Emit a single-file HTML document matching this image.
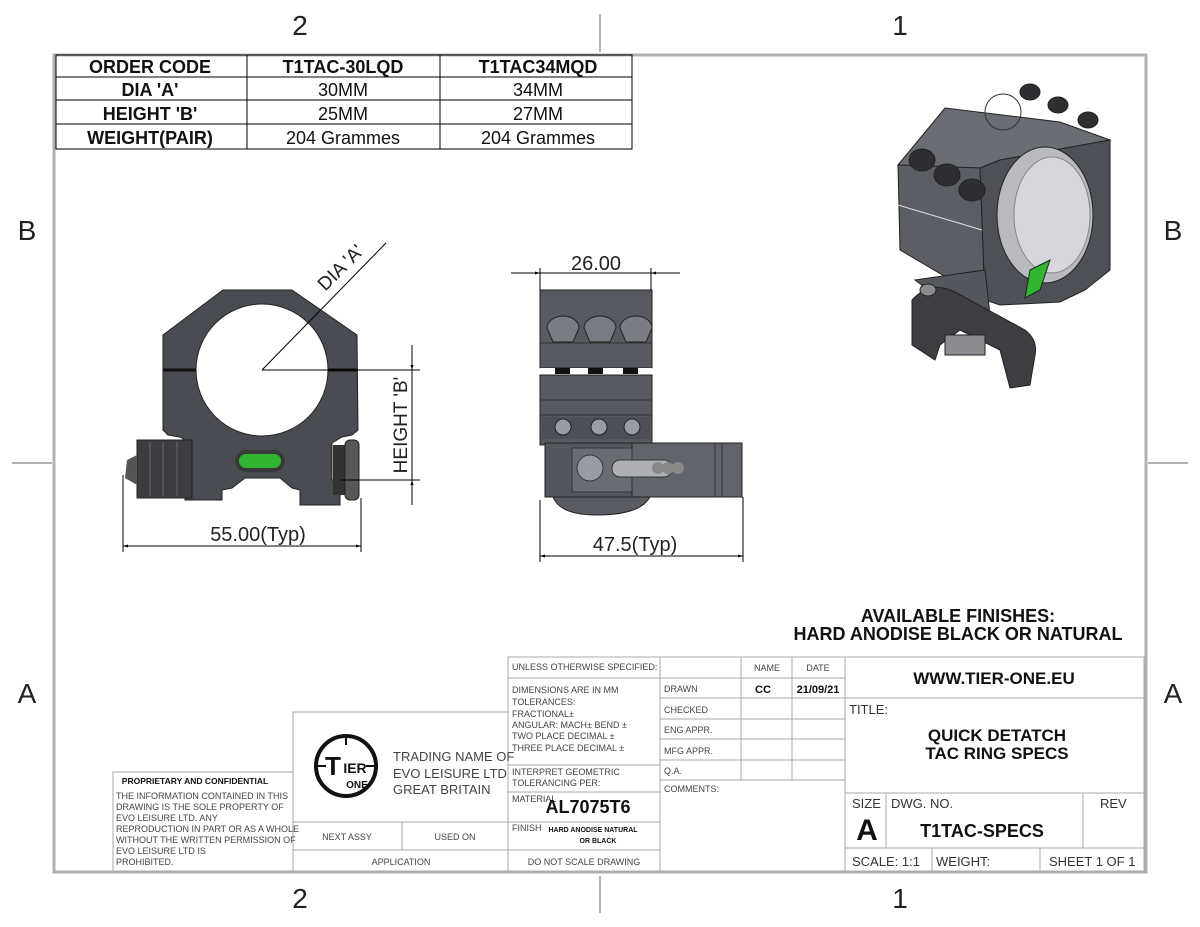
<!DOCTYPE html>
<html><head><meta charset="utf-8"><style>
html,body{margin:0;padding:0;background:#fff;}
svg{display:block;font-family:"Liberation Sans",sans-serif;}
.g{stroke:#a9a9a9;fill:none;stroke-width:1}
.k{stroke:#000;fill:none;stroke-width:1}
.t{fill:#444;font-size:9px}
.b{fill:#111;font-weight:bold}
</style></head><body>
<svg width="1200" height="927" viewBox="0 0 1200 927" xmlns="http://www.w3.org/2000/svg">
<defs>
<marker id="ar" viewBox="0 0 10 10" refX="10" refY="5" markerWidth="9" markerHeight="5" orient="auto-start-reverse"><path d="M0,2 L10,5 L0,8 z" fill="#000"/></marker>
</defs>
<!-- frame -->
<rect x="54" y="55" width="1092" height="817" fill="none" stroke="#b0b0b0" stroke-width="3"/>
<g stroke="#b0b0b0" stroke-width="2">
<line x1="600" y1="14" x2="600" y2="52"/><line x1="600" y1="876" x2="600" y2="913"/>
<line x1="12" y1="463" x2="52" y2="463"/><line x1="1148" y1="463" x2="1188" y2="463"/>
</g>
<g font-size="28" fill="#222" text-anchor="middle">
<text x="300" y="35">2</text><text x="900" y="35">1</text>
<text x="300" y="908">2</text><text x="900" y="908">1</text>
<text x="27" y="240">B</text><text x="1173" y="240">B</text>
<text x="27" y="703">A</text><text x="1173" y="703">A</text>
</g>
<!-- order table -->
<g class="k" stroke-width="1.2">
<rect x="56" y="55" width="576" height="94"/>
<line x1="56" y1="77" x2="632" y2="77"/><line x1="56" y1="100" x2="632" y2="100"/><line x1="56" y1="124" x2="632" y2="124"/>
<line x1="247" y1="55" x2="247" y2="149"/><line x1="440" y1="55" x2="440" y2="149"/>
</g>
<g font-size="18" fill="#111" text-anchor="middle">
<text x="150" y="73" class="b">ORDER CODE</text><text x="343" y="73" class="b">T1TAC-30LQD</text><text x="538" y="73" class="b">T1TAC34MQD</text>
<text x="150" y="96" class="b" x-offset="0">DIA 'A'</text><text x="343" y="96">30MM</text><text x="538" y="96">34MM</text>
<text x="150" y="120" class="b">HEIGHT 'B'</text><text x="343" y="120">25MM</text><text x="538" y="120">27MM</text>
<text x="150" y="144" class="b">WEIGHT(PAIR)</text><text x="343" y="144">204 Grammes</text><text x="538" y="144">204 Grammes</text>
</g>

<!-- FRONT VIEW -->
<g>
<path d="M223,290 L292,290 L357,335 L358,430 L352,435 L342,437 L332,443 L332,480 L340,480 L340,505 L300,505 L300,490 L292,488 L280,478 L245,478 L232,488 L222,490 L222,500 L185,500 L185,480 L190,480 L190,443 L180,437 L168,435 L163,430 L163,335 Z" fill="#4a4c53" stroke="#222"/>
<line x1="163" y1="370" x2="358" y2="370" stroke="#111" stroke-width="3"/>
<circle cx="262" cy="370" r="66" fill="#fff" stroke="#222"/>
<rect x="235" y="450" width="50" height="22" rx="11" fill="#3a3a3a"/>
<rect x="239" y="454" width="42" height="14" rx="7" fill="#2fb52f"/>
<rect x="137" y="440" width="55" height="58" fill="#3c3d42" stroke="#222"/>
<line x1="150" y1="442" x2="150" y2="496" stroke="#666"/><line x1="163" y1="442" x2="163" y2="496" stroke="#666"/><line x1="177" y1="442" x2="177" y2="496" stroke="#666"/>
<path d="M137,455 L127,460 L125,478 L137,485 Z" fill="#555"/>
<rect x="333" y="445" width="14" height="50" fill="#333"/>
<rect x="345" y="440" width="14" height="60" rx="5" fill="#55575c" stroke="#222"/>
</g>
<g class="k">
<line x1="262" y1="370" x2="386" y2="243"/>
<line x1="262" y1="370" x2="420" y2="370"/>
<line x1="340" y1="480" x2="420" y2="480"/>
<line x1="412" y1="345" x2="412" y2="370" marker-end="url(#ar)"/>
<line x1="412" y1="370" x2="412" y2="480"/>
<line x1="412" y1="505" x2="412" y2="480" marker-end="url(#ar)"/>
<line x1="123" y1="475" x2="123" y2="552"/><line x1="361" y1="498" x2="361" y2="552"/>
<line x1="123" y1="546" x2="361" y2="546" marker-start="url(#ar)" marker-end="url(#ar)"/>
</g>
<text x="345" y="272" font-size="19" fill="#222" transform="rotate(-45 345 272)" text-anchor="middle">DIA 'A'</text>
<text x="407" y="425" font-size="19" fill="#222" transform="rotate(-90 407 425)" text-anchor="middle">HEIGHT 'B'</text>
<text x="258" y="541" font-size="20" fill="#222" text-anchor="middle">55.00(Typ)</text>

<!-- SIDE VIEW -->
<g>
<rect x="540" y="290" width="112" height="78" fill="#585a62" stroke="#222"/>
<line x1="540" y1="343" x2="652" y2="343" stroke="#333"/>
<g fill="#7a7c84" stroke="#222">
<path d="M547,328 a16,12 0 0 1 32,0 l-6,14 h-20 z"/><path d="M584,328 a16,12 0 0 1 32,0 l-6,14 h-20 z"/><path d="M620,328 a16,12 0 0 1 32,0 l-6,14 h-20 z"/>
</g>
<rect x="540" y="368" width="112" height="7" fill="#fff"/>
<rect x="555" y="368" width="15" height="6" fill="#111"/><rect x="588" y="368" width="15" height="6" fill="#111"/><rect x="623" y="368" width="15" height="6" fill="#111"/>
<rect x="540" y="375" width="112" height="70" fill="#585a62" stroke="#222"/>
<line x1="540" y1="400" x2="652" y2="400" stroke="#333"/><line x1="540" y1="415" x2="652" y2="415" stroke="#333"/>
<rect x="542" y="417" width="108" height="22" fill="#4d4f56"/>
<circle cx="563" cy="427" r="8" fill="#9a9ca3" stroke="#222"/><circle cx="599" cy="427" r="8" fill="#9a9ca3" stroke="#222"/><circle cx="632" cy="427" r="8" fill="#9a9ca3" stroke="#222"/>
<path d="M553,497 Q560,515 597,515 Q640,515 650,497 Z" fill="#5a5c63" stroke="#222"/>
<rect x="545" y="443" width="197" height="54" fill="#55575e" stroke="#222"/>
<rect x="632" y="443" width="110" height="54" fill="#62646b" stroke="#222"/>
<line x1="715" y1="443" x2="715" y2="497" stroke="#333"/><line x1="722" y1="443" x2="722" y2="497" stroke="#333"/>
<rect x="572" y="448" width="60" height="44" fill="#6a6c73" stroke="#333"/>
<circle cx="590" cy="468" r="13" fill="#9a9ca3" stroke="#333"/>
<rect x="612" y="460" width="60" height="17" rx="8" fill="#aeb0b6" stroke="#333"/>
<circle cx="658" cy="468" r="6" fill="#888"/><circle cx="668" cy="468" r="6" fill="#888"/><circle cx="678" cy="468" r="6" fill="#888"/>
</g>
<g class="k">
<line x1="540" y1="268" x2="540" y2="290"/><line x1="651" y1="268" x2="651" y2="290"/>
<line x1="511" y1="273" x2="540" y2="273" marker-end="url(#ar)"/>
<line x1="680" y1="273" x2="651" y2="273" marker-end="url(#ar)"/>
<line x1="540" y1="273" x2="651" y2="273"/>
<line x1="540" y1="500" x2="540" y2="562"/><line x1="743" y1="497" x2="743" y2="562"/>
<line x1="540" y1="556" x2="743" y2="556" marker-start="url(#ar)" marker-end="url(#ar)"/>
</g>
<text x="596" y="270" font-size="20" fill="#222" text-anchor="middle">26.00</text>
<text x="635" y="551" font-size="20" fill="#222" text-anchor="middle">47.5(Typ)</text>

<!-- ISO VIEW -->
<g stroke="#222">
<path d="M898,165 L945,108 L1060,122 L1110,140 L1000,160 L980,168 Z" fill="#6b6d74"/>
<path d="M898,165 L980,168 L985,300 L900,250 Z" fill="#5c5e65"/>
<path d="M980,168 L1000,160 L1110,140 L1110,270 L1085,290 L1060,302 L1000,305 L985,300 Z" fill="#4e5057"/>
<ellipse cx="1045" cy="215" rx="48" ry="68" fill="#b8babf"/>
<ellipse cx="1052" cy="215" rx="38" ry="58" fill="#d6d7da" stroke="#888"/>
<line x1="898" y1="205" x2="982" y2="230" stroke="#ddd"/>
<g fill="#2e2f33"><ellipse cx="922" cy="160" rx="13" ry="11"/><ellipse cx="947" cy="175" rx="13" ry="11"/><ellipse cx="972" cy="190" rx="13" ry="11"/>
<ellipse cx="1030" cy="92" rx="10" ry="8"/><ellipse cx="1058" cy="105" rx="10" ry="8"/><ellipse cx="1088" cy="120" rx="10" ry="8"/></g>
<circle cx="1003" cy="112" r="18" fill="none" stroke="#333"/>
<path d="M1030,270 L1050,260 L1040,290 L1025,298 Z" fill="#2fb52f"/>
<path d="M915,280 L985,270 L990,315 L960,315 Z" fill="#55575e"/>
<path d="M912,300 Q930,280 955,292 L1025,330 Q1038,340 1035,355 L1030,385 L1010,388 L1000,350 L960,330 L940,345 L935,360 L912,345 Z" fill="#3d3e44"/>
<ellipse cx="928" cy="290" rx="8" ry="6" fill="#8a8c92"/>
<rect x="945" y="335" width="40" height="20" fill="#8a8c92"/>
</g>

<!-- finishes -->
<text x="958" y="622" font-size="18" class="b" text-anchor="middle">AVAILABLE FINISHES:</text>
<text x="958" y="640" font-size="18" class="b" text-anchor="middle">HARD ANODISE BLACK OR NATURAL</text>

<!-- TITLE BLOCK -->
<g class="g">
<rect x="113" y="772" width="180" height="100"/>
<rect x="293" y="712" width="215" height="160"/>
<line x1="293" y1="822" x2="508" y2="822"/><line x1="293" y1="850" x2="508" y2="850"/><line x1="402" y1="822" x2="402" y2="850"/>
<rect x="508" y="657" width="152" height="215"/>
<line x1="508" y1="678" x2="660" y2="678"/><line x1="508" y1="765" x2="660" y2="765"/><line x1="508" y1="792" x2="660" y2="792"/><line x1="508" y1="822" x2="660" y2="822"/><line x1="508" y1="850" x2="660" y2="850"/>
<rect x="660" y="657" width="185" height="215"/>
<line x1="660" y1="678" x2="845" y2="678"/><line x1="660" y1="698" x2="845" y2="698"/><line x1="660" y1="719" x2="845" y2="719"/><line x1="660" y1="739" x2="845" y2="739"/><line x1="660" y1="760" x2="845" y2="760"/><line x1="660" y1="780" x2="845" y2="780"/>
<line x1="741" y1="657" x2="741" y2="780"/><line x1="792" y1="657" x2="792" y2="780"/>
<rect x="845" y="657" width="299" height="215"/>
<line x1="845" y1="698" x2="1144" y2="698"/><line x1="845" y1="793" x2="1144" y2="793"/><line x1="845" y1="848" x2="1144" y2="848"/>
<line x1="886" y1="793" x2="886" y2="848"/><line x1="1083" y1="793" x2="1083" y2="848"/>
<line x1="932" y1="848" x2="932" y2="872"/><line x1="1040" y1="848" x2="1040" y2="872"/>
</g>
<text x="195" y="784" font-size="8.5" class="b" text-anchor="middle">PROPRIETARY AND CONFIDENTIAL</text>
<g class="t" font-size="8.5">
<text x="116" y="799">THE INFORMATION CONTAINED IN THIS</text>
<text x="116" y="810">DRAWING IS THE SOLE PROPERTY OF</text>
<text x="116" y="821">EVO LEISURE LTD.  ANY</text>
<text x="116" y="832">REPRODUCTION IN PART OR AS A WHOLE</text>
<text x="116" y="843">WITHOUT THE WRITTEN PERMISSION OF</text>
<text x="116" y="854">EVO LEISURE LTD IS</text>
<text x="116" y="865">PROHIBITED.</text>
</g>
<!-- logo -->
<g>
<circle cx="346" cy="766" r="30" fill="none" stroke="#111" stroke-width="4"/>
<line x1="316" y1="766" x2="326" y2="766" stroke="#111" stroke-width="2"/><line x1="366" y1="766" x2="378" y2="766" stroke="#111" stroke-width="2"/>
<line x1="346" y1="734" x2="346" y2="745" stroke="#111" stroke-width="2"/>
<text x="333" y="775" font-size="26" class="b" text-anchor="middle">T</text>
<text x="355" y="773" font-size="14" class="b" text-anchor="middle">IER</text>
<text x="357" y="788" font-size="10" class="b" text-anchor="middle">ONE</text>
</g>
<g fill="#444" font-size="13">
<text x="393" y="761">TRADING NAME OF</text><text x="393" y="778">EVO LEISURE LTD</text><text x="393" y="794">GREAT BRITAIN</text>
</g>
<g class="t" text-anchor="middle"><text x="347" y="840">NEXT ASSY</text><text x="455" y="840">USED ON</text><text x="401" y="865">APPLICATION</text><text x="584" y="865">DO NOT SCALE DRAWING</text></g>
<g class="t">
<text x="512" y="670">UNLESS OTHERWISE SPECIFIED:</text>
<text x="512" y="693">DIMENSIONS ARE IN MM</text>
<text x="512" y="705">TOLERANCES:</text>
<text x="512" y="717">FRACTIONAL±</text>
<text x="512" y="728">ANGULAR: MACH±    BEND ±</text>
<text x="512" y="739">TWO PLACE DECIMAL    ±</text>
<text x="512" y="751">THREE PLACE DECIMAL  ±</text>
<text x="512" y="775">INTERPRET GEOMETRIC</text>
<text x="512" y="786">TOLERANCING PER:</text>
<text x="512" y="802">MATERIAL</text>
<text x="512" y="831">FINISH</text>
<text x="664" y="692">DRAWN</text><text x="664" y="713">CHECKED</text><text x="664" y="733">ENG APPR.</text><text x="664" y="754">MFG APPR.</text><text x="664" y="774">Q.A.</text><text x="664" y="792">COMMENTS:</text>
<text x="767" y="671" text-anchor="middle">NAME</text><text x="818" y="671" text-anchor="middle">DATE</text>
</g>
<text x="588" y="813" font-size="18" class="b" text-anchor="middle">AL7075T6</text>
<text x="593" y="832" font-size="7" class="b" text-anchor="middle">HARD ANODISE NATURAL</text>
<text x="598" y="843" font-size="7" class="b" text-anchor="middle">OR BLACK</text>
<text x="763" y="693" font-size="11" class="b" text-anchor="middle">CC</text>
<text x="818" y="693" font-size="11" class="b" text-anchor="middle">21/09/21</text>
<text x="994" y="684" font-size="17" class="b" text-anchor="middle">WWW.TIER-ONE.EU</text>
<text x="849" y="714" font-size="13" fill="#333">TITLE:</text>
<text x="997" y="741" font-size="17" class="b" text-anchor="middle">QUICK DETATCH</text>
<text x="997" y="759" font-size="17" class="b" text-anchor="middle">TAC RING SPECS</text>
<text x="852" y="808" font-size="13" fill="#333">SIZE</text>
<text x="867" y="840" font-size="30" class="b" text-anchor="middle">A</text>
<text x="891" y="808" font-size="13" fill="#333">DWG.  NO.</text>
<text x="982" y="837" font-size="18" class="b" text-anchor="middle">T1TAC-SPECS</text>
<text x="1100" y="808" font-size="13" fill="#333">REV</text>
<g font-size="13" fill="#333"><text x="852" y="866">SCALE: 1:1</text><text x="936" y="866">WEIGHT:</text><text x="1049" y="866">SHEET 1 OF 1</text></g>
</svg>
</body></html>
